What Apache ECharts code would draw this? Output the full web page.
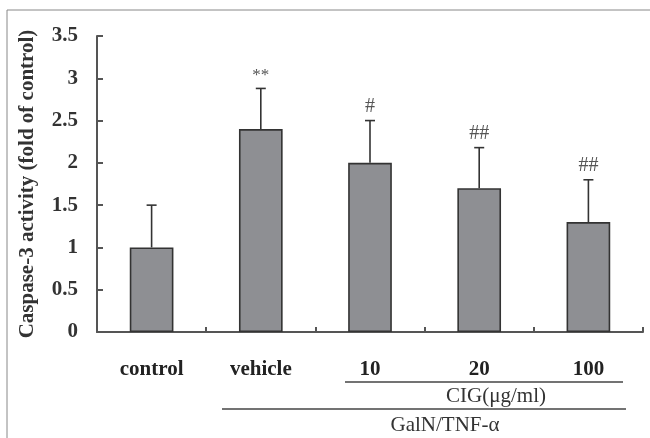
<!DOCTYPE html>
<html><head><meta charset="utf-8">
<script src="https://cdn.jsdelivr.net/npm/echarts@6/dist/echarts.min.js"></script>
<style>html,body{margin:0;padding:0;background:#fff}#c{width:650px;height:438px}</style>
</head><body><div id="c"></div>
<script>
const categories = ['control', 'vehicle', '10', '20', '100'];
const means = [1.0, 2.4, 2.0, 1.7, 1.3];
const errors = [0.5, 0.48, 0.5, 0.48, 0.5];
const marks = ['', '**', '#', '##', '##'];
const yTicks = [0, 0.5, 1, 1.5, 2, 2.5, 3, 3.5];

const serif = '"Liberation Serif", "Times New Roman", serif';
const chart = echarts.init(document.getElementById('c'));
chart.setOption({
  animation: false,
  grid: { left: 97, right: 7, top: 36, bottom: 106 },
  xAxis: {
    type: 'category', data: categories, boundaryGap: true,
    axisLine: { lineStyle: { color: '#555', width: 2 } },
    axisTick: { show: true, inside: true, length: 5, lineStyle: { color: '#555', width: 2 } },
    axisLabel: { margin: 27, fontFamily: serif, fontWeight: 'bold', fontSize: 21, color: '#222' }
  },
  yAxis: {
    type: 'value', min: 0, max: 3.5, interval: 0.5,
    name: 'Caspase-3 activity (fold of control)',
    nameLocation: 'middle', nameGap: 59,
    nameTextStyle: { fontFamily: serif, fontWeight: 'bold', fontSize: 21, color: '#333' },
    axisLine: { show: true, lineStyle: { color: '#555', width: 2 } },
    axisTick: { show: true, inside: true, length: 6, lineStyle: { color: '#555', width: 2 } },
    splitLine: { show: false },
    axisLabel: {
      margin: 19, fontFamily: serif, fontWeight: 'bold', fontSize: 21, color: '#333',
      formatter: v => yTicks.includes(v) ? String(v) : ''
    }
  },
  series: [
    {
      type: 'bar', data: means, barWidth: '40%',
      itemStyle: { color: '#8e8f93', borderColor: '#333', borderWidth: 1.6 }
    },
    {
      type: 'custom', z: 1,
      data: means.map((m, i) => [i, m, m + errors[i]]),
      renderItem: (params, api) => {
        const i = api.value(0);
        const b = api.coord([i, api.value(1)]);
        const t = api.coord([i, api.value(2)]);
        const cap = 5;
        const st = { stroke: '#333', lineWidth: 1.6 };
        const children = [
          { type: 'line', shape: { x1: b[0], y1: b[1], x2: t[0], y2: t[1] }, style: st },
          { type: 'line', shape: { x1: t[0] - cap, y1: t[1], x2: t[0] + cap, y2: t[1] }, style: st }
        ];
        const mk = marks[i];
        if (mk) {
          children.push({
            type: 'text', x: t[0], y: t[1] - 4,
            style: { text: mk, fontFamily: serif, fontSize: mk === '**' ? 17 : 20, fill: '#555', align: 'center', verticalAlign: 'bottom' }
          });
        }
        return { type: 'group', children };
      }
    }
  ],
  graphic: [
    { type: 'rect', shape: { x: 7, y: 10, width: 700, height: 500 }, style: { fill: 'none', stroke: '#888', lineWidth: 1 } },
    { type: 'line', shape: { x1: 345, y1: 382, x2: 623, y2: 382 }, style: { stroke: '#444', lineWidth: 1.5 } },
    { type: 'text', x: 496, y: 396, style: { text: 'CIG(μg/ml)', fontFamily: serif, fontSize: 21, fill: '#333', align: 'center', verticalAlign: 'middle' } },
    { type: 'line', shape: { x1: 222, y1: 409, x2: 626, y2: 409 }, style: { stroke: '#444', lineWidth: 1.5 } },
    { type: 'text', x: 445, y: 425, style: { text: 'GalN/TNF-α', fontFamily: serif, fontSize: 21, fill: '#333', align: 'center', verticalAlign: 'middle' } }
  ]
});
</script></body></html>
